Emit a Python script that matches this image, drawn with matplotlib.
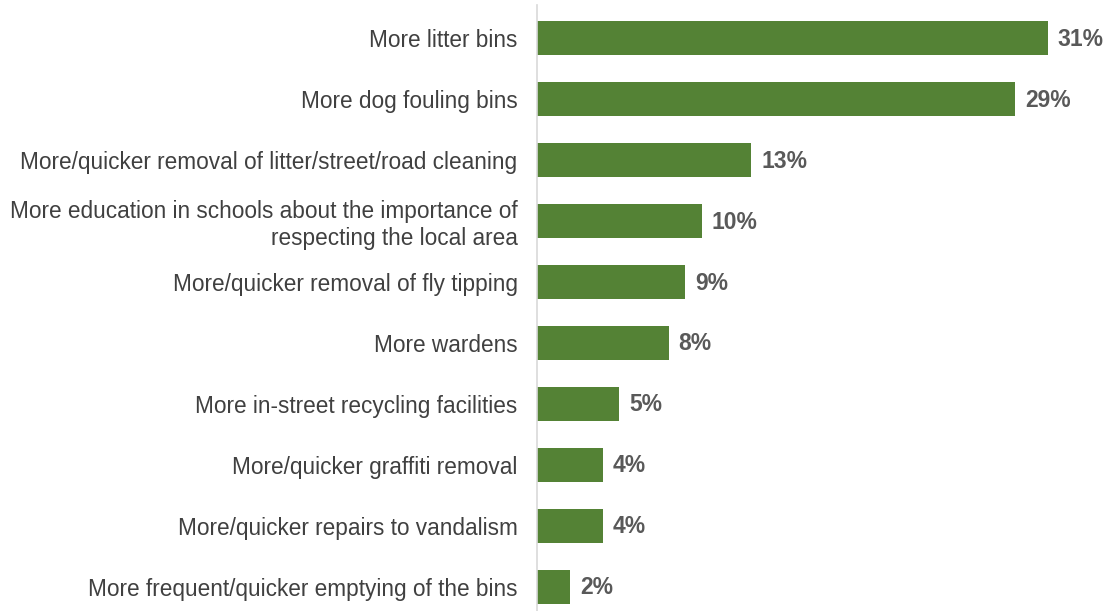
import matplotlib.pyplot as plt

# survey answers, top to bottom
labels = [
    'More litter bins',
    'More dog fouling bins',
    'More/quicker removal of litter/street/road cleaning',
    'More education in schools about the importance of\nrespecting the local area',
    'More/quicker removal of fly tipping',
    'More wardens',
    'More in-street recycling facilities',
    'More/quicker graffiti removal',
    'More/quicker repairs to vandalism',
    'More frequent/quicker emptying of the bins',
]
values = [31, 29, 13, 10, 9, 8, 5, 4, 4, 2]

plt.rcParams['font.family'] = ['Liberation Sans', 'DejaVu Sans']

fig = plt.figure(figsize=(11.08, 6.11), dpi=100)
ax = fig.add_axes([537 / 1108, 0, 1 - 537 / 1108, 1 - 5 / 611])

ypos = list(range(len(values)))
ax.barh(ypos, values, height=0.56, color='#548235')

# value labels at the end of each bar
for y, v in zip(ypos, values):
    ax.text(v + 0.6, y + 0.02, f'{v}%', va='center', ha='left',
            fontsize=16.5, fontweight='bold', color='#595959')

ax.set_xlim(0, 34.65)
ax.set_ylim(9.4, -0.54)
ax.set_yticks(ypos)
ax.set_yticklabels(labels, fontsize=16.3, color='#404040', linespacing=1.2)
ax.tick_params(axis='y', length=0, pad=14)
ax.set_xticks([])
for s in ['top', 'right', 'bottom']:
    ax.spines[s].set_visible(False)
ax.spines['left'].set_color('#d9d9d9')
ax.spines['left'].set_linewidth(1.2)

fig.savefig('out.png', dpi=100)
